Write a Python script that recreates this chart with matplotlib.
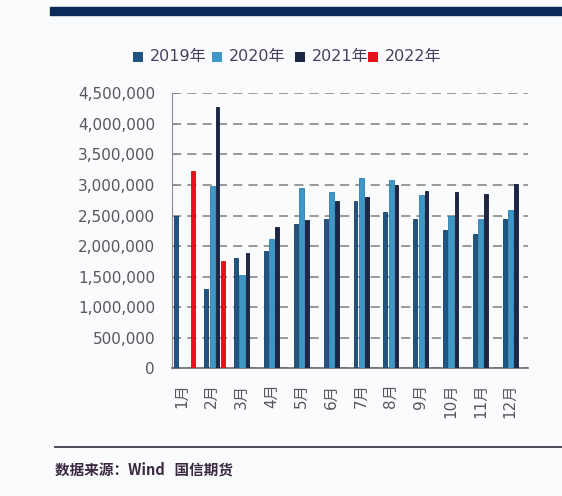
import matplotlib
matplotlib.use("Agg")
import matplotlib.pyplot as plt
from matplotlib.patches import Rectangle
from matplotlib.lines import Line2D
import numpy as np

plt.rcParams['font.family'] = ['DejaVu Sans', 'Noto Sans CJK SC']

months = ["1月", "2月", "3月", "4月", "5月", "6月", "7月", "8月", "9月", "10月", "11月", "12月"]
series_names = ["2019年", "2020年", "2021年", "2022年"]
v2019 = [2490000, 1290000, 1810000, 1920000, 2360000, 2440000, 2740000, 2550000, 2440000, 2270000, 2190000, 2450000]
v2020 = [np.nan, 2980000, 1530000, 2120000, 2950000, 2890000, 3120000, 3080000, 2830000, 2490000, 2450000, 2590000]
v2021 = [np.nan, 4280000, 1880000, 2320000, 2420000, 2730000, 2810000, 3000000, 2900000, 2890000, 2860000, 3010000]
v2022 = [3230000, 1760000, np.nan, np.nan, np.nan, np.nan, np.nan, np.nan, np.nan, np.nan, np.nan, np.nan]
yticks = [0, 500000, 1000000, 1500000, 2000000, 2500000, 3000000, 3500000, 4000000, 4500000]

colors = ["#1f5580", "#3f97c6", "#1c2747", "#e3121c"]
edges = ["#173f63", "#2b7fb0", "#141c36", "#c80f18"]
offsets = [-0.18, 0.02, 0.20, 0.38]
widths = [0.13, 0.17, 0.12, 0.14]

fig = plt.figure(figsize=(5.62, 4.96), dpi=100)
fig.patch.set_facecolor("#fafbfd")
ax = fig.add_axes([171.7/562, 1-368.3/496, (528-171.7)/562, (368.3-93.3)/496])
ax.set_facecolor("#fafbfd")

x = np.arange(len(months))
for vals, c, ec, off, w in zip([v2019, v2020, v2021, v2022], colors, edges, offsets, widths):
    ax.bar(x + off, vals, width=w, color=c, edgecolor=ec, linewidth=0.6, zorder=3)

ax.set_ylim(0, 4500000)
ax.set_xlim(-0.335, 11.6)
ax.set_yticks(yticks)
ax.set_yticklabels([f"{v:,}" for v in yticks])
ax.set_xticks(x)
ax.set_xticklabels(months, rotation=90, family=['DejaVu Sans', 'Noto Sans CJK SC'])
ax.tick_params(axis='y', direction='in', length=4, color='#888888', labelsize=11, labelcolor='#5a5560', pad=12)
ax.tick_params(axis='x', length=0, labelsize=11, labelcolor='#5a5560', pad=11)
ax.yaxis.grid(True, linestyle=(0, (6, 4)), color='#7e7e7e', linewidth=1.1, zorder=0)
for s in ['top', 'right']:
    ax.spines[s].set_visible(False)
ax.spines['left'].set_color('#8a8a96')
ax.spines['bottom'].set_color('#6a6a7a')
ax.spines['bottom'].set_linewidth(1.2)

# top banner bar
fig.add_artist(Rectangle((50/562, 1-15/496), (562-50)/562, 8/496, transform=fig.transFigure,
                         color="#0b2a5c", zorder=5))
# legend
lx = [133, 212, 295, 368]
for xx, c, name in zip(lx, colors, series_names):
    fig.add_artist(Rectangle((xx/562, 1-62/496), 10/562, 10/496, transform=fig.transFigure,
                             facecolor=c, edgecolor='none'))
    fig.text((xx+17)/562, 1-57/496, name, ha='left', va='center', fontsize=11.5,
             color='#4a3f5c', family=['DejaVu Sans', 'Noto Sans CJK SC'])

# bottom rule & source
fig.add_artist(Line2D([55/562, 1.0], [1-447/496, 1-447/496], transform=fig.transFigure,
                      color='#3a3a4a', linewidth=1.3))
fig.text(55/562, 1-470/496, "数据来源：Wind   国信期货", ha='left', va='center', fontsize=10.5,
         color='#3a2a40', fontweight='bold', family=['Noto Sans CJK SC', 'DejaVu Sans'])

fig.savefig("out.png", dpi=100, facecolor=fig.get_facecolor())
